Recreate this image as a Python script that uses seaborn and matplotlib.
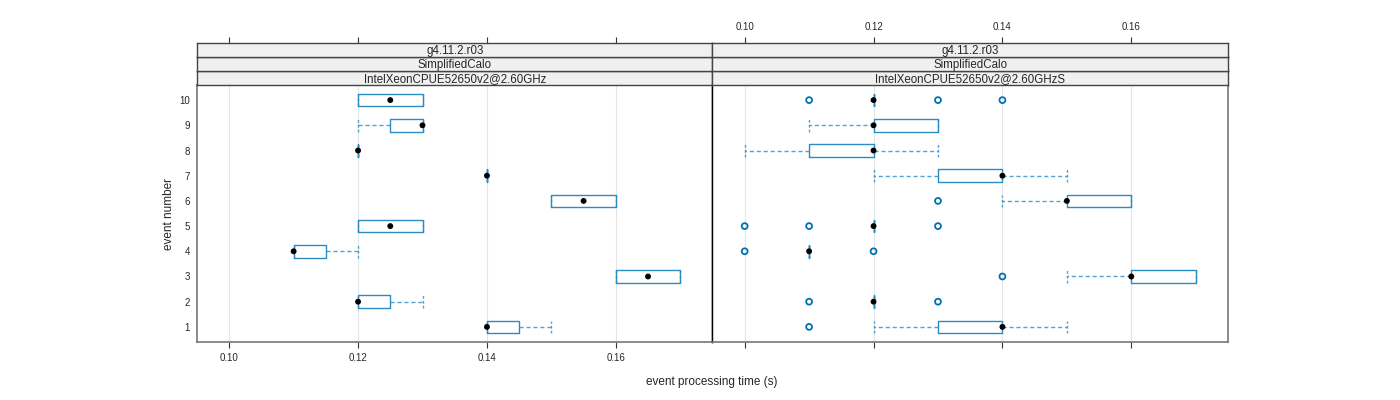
import numpy as np
import pandas as pd
import matplotlib
matplotlib.use("Agg")
import matplotlib.pyplot as plt
import seaborn as sns

# event rows, bottom to top
events = [1, 2, 3, 4, 5, 6, 7, 8, 9, 10]

# panel 1: IntelXeonCPUE52650v2@2.60GHz
left_lo = [0.14, 0.12, 0.16, 0.11, 0.12, 0.15, 0.14, 0.12, 0.12, 0.12]
left_q1 = [0.14, 0.12, 0.16, 0.11, 0.12, 0.15, 0.14, 0.12, 0.125, 0.12]
left_med = [0.14, 0.12, 0.165, 0.11, 0.125, 0.155, 0.14, 0.12, 0.13, 0.125]
left_q3 = [0.145, 0.125, 0.17, 0.115, 0.13, 0.16, 0.14, 0.12, 0.13, 0.13]
left_hi = [0.15, 0.13, 0.17, 0.12, 0.13, 0.16, 0.14, 0.12, 0.13, 0.13]
left_out_event = []
left_out_value = []

# panel 2: IntelXeonCPUE52650v2@2.60GHzS
right_lo = [0.12, 0.12, 0.15, 0.11, 0.12, 0.14, 0.12, 0.10, 0.11, 0.12]
right_q1 = [0.13, 0.12, 0.16, 0.11, 0.12, 0.15, 0.13, 0.11, 0.12, 0.12]
right_med = [0.14, 0.12, 0.16, 0.11, 0.12, 0.15, 0.14, 0.12, 0.12, 0.12]
right_q3 = [0.14, 0.12, 0.17, 0.11, 0.12, 0.16, 0.14, 0.12, 0.13, 0.12]
right_hi = [0.15, 0.12, 0.17, 0.11, 0.12, 0.16, 0.15, 0.13, 0.13, 0.12]
right_out_event = [1, 2, 2, 3, 4, 4, 5, 5, 5, 6, 10, 10, 10]
right_out_value = [0.11, 0.11, 0.13, 0.14, 0.10, 0.12, 0.10, 0.11, 0.13, 0.13, 0.11, 0.13, 0.14]

strip_rows = ["g4.11.2.r03", "SimplifiedCalo"]
machines = ["IntelXeonCPUE52650v2@2.60GHz", "IntelXeonCPUE52650v2@2.60GHzS"]
xticks = [0.10, 0.12, 0.14, 0.16]

sns.set_style("white")
plt.rcParams["font.family"] = ["Liberation Sans", "DejaVu Sans"]

BOX = "#2b8cc4"
PT = "#0072b2"
XLIM = (0.095, 0.175)

fig = plt.figure(figsize=(14, 4), dpi=100)
panels = [
    (left_lo, left_q1, left_med, left_q3, left_hi, left_out_event, left_out_value),
    (right_lo, right_q1, right_med, right_q3, right_hi, right_out_event, right_out_value),
]
x0, w = 0.1407, 0.3682
bottom, height = 0.145, 0.6425
strip_h = 0.035

for k, (lo, q1, med, q3, hi, oe, ov) in enumerate(panels):
    ax = fig.add_axes([x0 + k * w, bottom, w, height])
    stats = [
        dict(whislo=lo[i], q1=q1[i], med=med[i], q3=q3[i], whishi=hi[i], fliers=[])
        for i in range(len(events))
    ]
    for xt in xticks:
        ax.axvline(xt, color="#e6e6e6", lw=0.8, zorder=0)
    ax.bxp(stats, positions=events, widths=0.5, capwidths=0.5,
           orientation="horizontal", showfliers=False,
           boxprops=dict(color=BOX, lw=1.0),
           whiskerprops=dict(color=BOX, lw=1.0, ls=(0, (3, 2)), alpha=0.8),
           capprops=dict(color=BOX, lw=1.0, ls=(0, (2, 1.5)), alpha=0.8),
           medianprops=dict(lw=0))
    med_df = pd.DataFrame({"time": med, "event": events})
    sns.scatterplot(data=med_df, x="time", y="event", color="black", s=18,
                    edgecolor="none", ax=ax, zorder=5)
    if oe:
        out_df = pd.DataFrame({"time": ov, "event": oe})
        sns.scatterplot(data=out_df, x="time", y="event", facecolor="none",
                        edgecolor=PT, linewidth=1.3, s=18, ax=ax, zorder=4)
    ax.set_xlim(*XLIM)
    ax.set_ylim(0.4, 10.6)
    ax.set_xlabel("")
    ax.set_ylabel("")
    ax.set_xticks(xticks)
    ax.set_xticklabels([f"{t:.2f}" for t in xticks])
    ax.tick_params(axis="x", labelsize=7, length=4, width=0.8, color="#333333",
                   direction="out", top=False, bottom=True,
                   labelbottom=(k == 0), labeltop=False, pad=4)
    ax.set_yticks(events)
    ax.tick_params(axis="y", length=0, labelsize=7, labelleft=(k == 0), pad=5)
    for side, sp in ax.spines.items():
        sp.set_visible(True)
        sp.set_color("#777777")
        sp.set_linewidth(1.2)
    if k == 0:
        ax.spines["right"].set_color("black")
        ax.spines["right"].set_linewidth(1.0)
    else:
        ax.spines["left"].set_color("black")
        ax.spines["left"].set_linewidth(1.0)

    labels = [machines[k]] + strip_rows[::-1]
    for j, lab in enumerate(labels):
        sax = fig.add_axes([x0 + k * w, bottom + height + j * strip_h, w, strip_h])
        sax.set_facecolor("#f0f0f0")
        sax.set_xlim(*XLIM)
        sax.set_yticks([])
        if j == len(labels) - 1:
            # top axis sits above the strips, lattice style
            sax.set_xticks(xticks)
            sax.set_xticklabels([f"{t:.2f}" for t in xticks])
            sax.tick_params(axis="x", labelsize=7, length=4, width=0.8,
                            color="#333333", direction="out", top=True,
                            bottom=False, labelbottom=False,
                            labeltop=(k == 1), pad=4)
        else:
            sax.set_xticks([])
        for sp in sax.spines.values():
            sp.set_visible(True)
            sp.set_color("#444444")
            sp.set_linewidth(1.0)
        sax.text(0.5, 0.45, lab, ha="center", va="center", fontsize=8.3,
                 transform=sax.transAxes)

fig.text(0.5086, 0.045, "event processing time (s)", ha="center", va="center", fontsize=8.5)
fig.text(0.121, 0.466, "event number", ha="center", va="center", rotation=90, fontsize=8.5)

fig.savefig("out.png", dpi=100)
